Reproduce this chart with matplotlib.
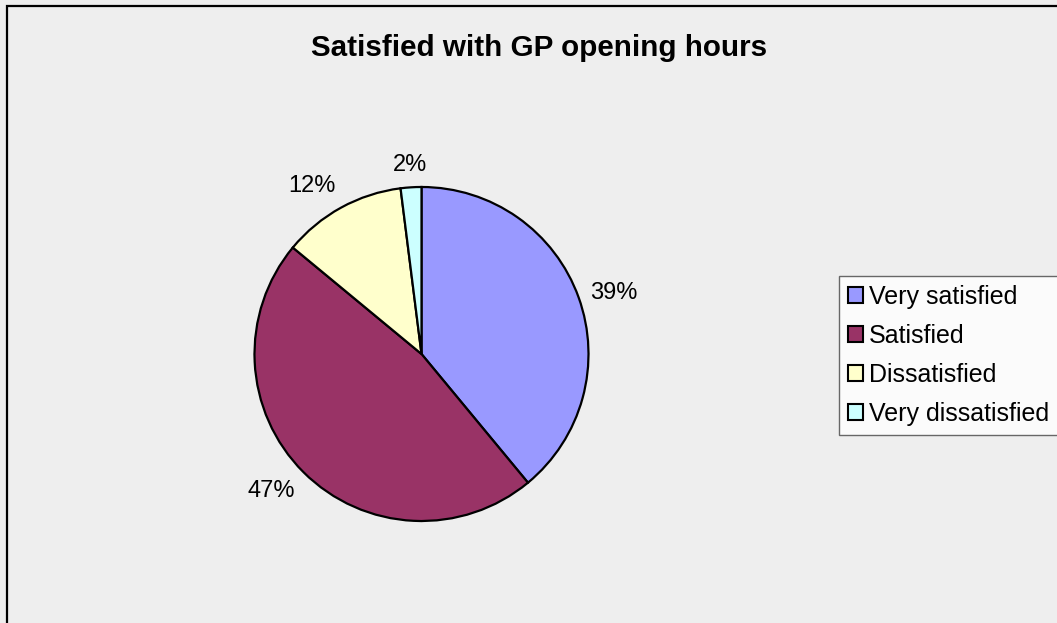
import numpy as np
import matplotlib.pyplot as plt
from matplotlib.patches import Rectangle

plt.rcParams["font.family"] = ["Liberation Sans", "DejaVu Sans"]

# survey answers
categories = ["Very satisfied", "Satisfied", "Dissatisfied", "Very dissatisfied"]
shares = [39, 47, 12, 2]
colors = ["#9999FF", "#993366", "#FFFFCC", "#CCFFFF"]
title = "Satisfied with GP opening hours"

W, H = 1057, 623
fig = plt.figure(figsize=(W / 100, H / 100), dpi=100)
fig.patch.set_facecolor("#EEEEEE")

# chart area frame (runs off the right and bottom edge)
fig.patches.append(Rectangle((7 / W, -0.1), 1.2, (H - 6) / H + 0.1,
                             transform=fig.transFigure, fill=False,
                             edgecolor="black", linewidth=1.6))

fig.text(539 / W, 1 - 48 / H, title, ha="center", va="center",
         fontsize=21.3, fontweight="bold")

# pie axes: centre (421.5, 354) px, radius 167 px
cx, cy, r = 421.5, 354, 167
ax = fig.add_axes([(cx - r) / W, (H - cy - r) / H, 2 * r / W, 2 * r / H])
ax.set_facecolor("none")
wedges, _ = ax.pie(shares, colors=colors, startangle=90, counterclock=False,
                   radius=1, wedgeprops=dict(edgecolor="black", linewidth=1.6))
ax.set_xlim(-1, 1)
ax.set_ylim(-1, 1)
ax.set_aspect("equal")
ax.axis("off")

# percentage labels: the text box corner sits just outside the slice edge
for w, v in zip(wedges, shares):
    mid = np.deg2rad((w.theta1 + w.theta2) / 2)
    c, s = np.cos(mid), np.sin(mid)
    ha = "center" if abs(c) < 0.2 else ("left" if c > 0 else "right")
    va = "center" if abs(s) < 0.5 else ("bottom" if s > 0 else "top")
    ax.text(1.07 * c, 1.07 * s, f"{v}%", ha=ha, va=va,
            fontsize=17, clip_on=False)

leg = fig.legend(wedges, categories, loc="upper left",
                 bbox_to_anchor=(839 / W, 1 - 276 / H),
                 fontsize=18, frameon=True, fancybox=False,
                 handlelength=0.6, handleheight=0.6, handletextpad=0.25,
                 labelspacing=0.6, borderpad=0.35, borderaxespad=0)
leg.get_frame().set_edgecolor("#444444")
leg.get_frame().set_linewidth(1.0)
for h in leg.legend_handles:
    h.set_linewidth(1.5)

fig.savefig("out.png", dpi=100, facecolor=fig.get_facecolor())
